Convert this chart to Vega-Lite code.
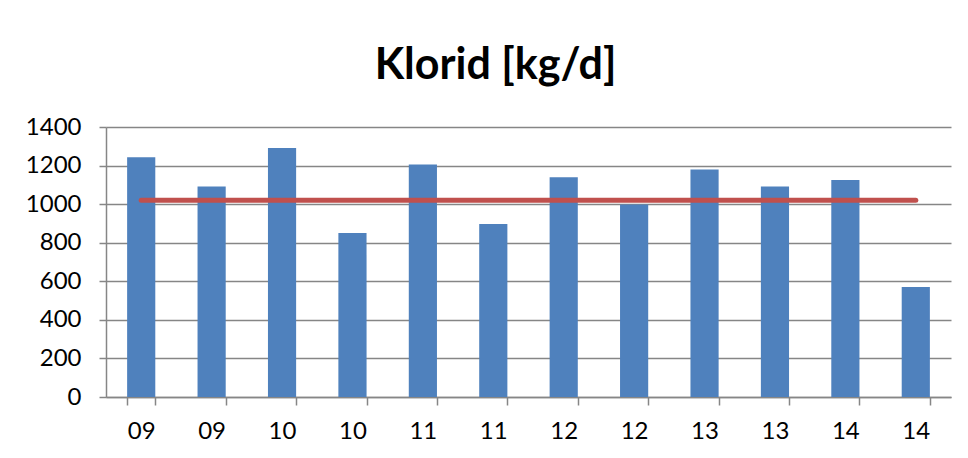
{
  "$schema": "https://vega.github.io/schema/vega-lite/v6.json",
  "autosize": {"type": "none"},
  "width": 845,
  "height": 270,
  "padding": {"left": 106, "top": 127, "right": 17, "bottom": 61},
  "background": "white",
  "title": {
    "text": "Klorid [kg/d]",
    "font": "Lato",
    "fontSize": 43,
    "fontWeight": "bold",
    "color": "#000000",
    "anchor": "middle",
    "dx": -33,
    "offset": 27
  },
  "data": {
    "values": [
      {"id": "09-1", "value": 1243, "ref": 1020},
      {"id": "09-2", "value": 1092, "ref": 1020},
      {"id": "10-1", "value": 1291, "ref": 1020},
      {"id": "10-2", "value": 850, "ref": 1020},
      {"id": "11-1", "value": 1206, "ref": 1020},
      {"id": "11-2", "value": 897, "ref": 1020},
      {"id": "12-1", "value": 1139, "ref": 1020},
      {"id": "12-2", "value": 998, "ref": 1020},
      {"id": "13-1", "value": 1179, "ref": 1020},
      {"id": "13-2", "value": 1092, "ref": 1020},
      {"id": "14-1", "value": 1125, "ref": 1020},
      {"id": "14-2", "value": 570, "ref": 1020}
    ]
  },
  "encoding": {
    "x": {
      "field": "id",
      "type": "nominal",
      "sort": null,
      "scale": {"paddingInner": 0.6, "paddingOuter": 0.3},
      "axis": {
        "title": null,
        "labelExpr": "substring(datum.label, 0, 2)",
        "labelAngle": 0,
        "labelFont": "Lato",
        "labelFontSize": 24,
        "labelColor": "#000000",
        "labelPadding": 14,
        "labelOverlap": false,
        "tickBand": "extent",
        "tickSize": 8,
        "tickColor": "#868686",
        "tickWidth": 1.5,
        "domainColor": "#868686",
        "domainWidth": 1.5,
        "grid": false
      }
    }
  },
  "layer": [
    {
      "mark": {"type": "bar", "color": "#4F81BD"},
      "encoding": {
        "y": {
          "field": "value",
          "type": "quantitative",
          "scale": {"domain": [0, 1400], "nice": false},
          "axis": {
            "title": null,
            "values": [0, 200, 400, 600, 800, 1000, 1200, 1400],
            "format": "d",
            "labelOverlap": false,
            "labelFont": "Lato",
            "labelFontSize": 24,
            "labelColor": "#000000",
            "labelPadding": 18,
            "tickSize": 7,
            "tickColor": "#868686",
            "tickWidth": 1.5,
            "domain": true,
            "domainColor": "#868686",
            "domainWidth": 1.5,
            "grid": true,
            "gridColor": "#868686",
            "gridWidth": 1.5
          }
        }
      }
    },
    {
      "mark": {"type": "line", "color": "#C0504D", "strokeWidth": 5, "strokeCap": "round"},
      "encoding": {
        "y": {
          "field": "ref",
          "type": "quantitative",
          "axis": {
            "title": null,
            "values": [0, 200, 400, 600, 800, 1000, 1200, 1400],
            "format": "d",
            "labelOverlap": false,
            "labelFont": "Lato",
            "labelFontSize": 24,
            "labelColor": "#000000",
            "labelPadding": 18,
            "tickSize": 7,
            "tickColor": "#868686",
            "tickWidth": 1.5,
            "domain": true,
            "domainColor": "#868686",
            "domainWidth": 1.5,
            "grid": true,
            "gridColor": "#868686",
            "gridWidth": 1.5
          }
        }
      }
    }
  ],
  "config": {
    "view": {"stroke": null}
  }
}
